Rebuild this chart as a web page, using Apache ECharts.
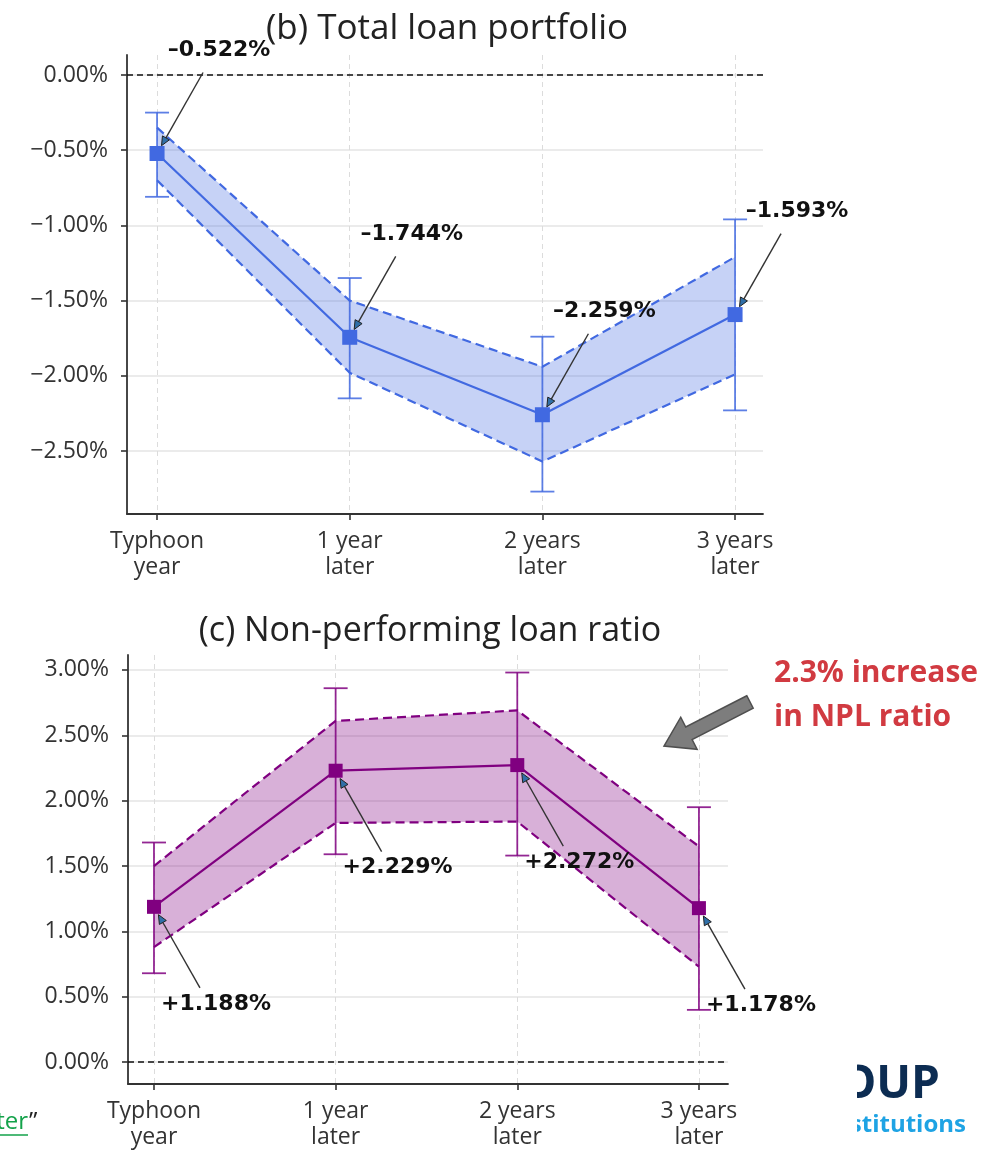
<!DOCTYPE html>
<html>
<head>
<meta charset="utf-8">
<script src="https://cdn.jsdelivr.net/npm/echarts@6/dist/echarts.min.js"></script>
<style>
  html, body { margin: 0; padding: 0; background: #fff; }
  #chart { width: 984px; height: 1150px; }
</style>
</head>
<body>
<div id="chart"></div>
<script>
// Period labels shared by both panels
const categories = ['Typhoon\nyear', '1 year\nlater', '2 years\nlater', '3 years\nlater'];
const xPositions = [0, 1, 2, 3];

// (b) Total loan portfolio, effect in %
const loanEstimate = [-0.522, -1.744, -2.259, -1.593];
const loanBandLow  = [-0.70, -1.98, -2.57, -1.99];
const loanBandHigh = [-0.35, -1.50, -1.94, -1.21];
const loanErrLow   = [-0.81, -2.15, -2.77, -2.23];
const loanErrHigh  = [-0.25, -1.35, -1.74, -0.96];
const loanTicks    = [-2.5, -2.0, -1.5, -1.0, -0.5, 0];

// (c) Non-performing loan ratio, effect in %
const nplEstimate = [1.188, 2.229, 2.272, 1.178];
const nplBandLow  = [0.88, 1.83, 1.84, 0.73];
const nplBandHigh = [1.50, 2.61, 2.69, 1.65];
const nplErrLow   = [0.68, 1.59, 1.58, 0.40];
const nplErrHigh  = [1.68, 2.86, 2.98, 1.95];
const nplTicks    = [0, 0.5, 1.0, 1.5, 2.0, 2.5, 3.0];

const BLUE = '#4169e1';
const PURPLE = '#800080';
const AXIS_FONT = '"Open Sans", "Noto Sans", sans-serif';
const NOTE_FONT = '"DejaVu Sans", sans-serif';

const pairs = (vals) => vals.map((v, i) => [xPositions[i], v]);
const pctTick = (v) => (v < 0 ? '\u2212' : '') + Math.abs(v).toFixed(2) + '%';
const pctNote = (v) => (v < 0 ? '\u2013' : '+') + Math.abs(v).toFixed(3) + '%';

function xAxisFor(gridIndex, min, max) {
  return {
    type: 'value', gridIndex, min, max,
    axisLine: { show: true, onZero: false, lineStyle: { color: '#333', width: 1.8 } },
    axisTick: { show: true, customValues: xPositions, length: 6, lineStyle: { color: '#333', width: 1.6 } },
    axisLabel: {
      customValues: xPositions, formatter: (v) => categories[Math.round(v)],
      color: '#333', fontFamily: AXIS_FONT, fontSize: 23, lineHeight: 26, margin: 14
    },
    splitLine: { show: true, lineStyle: { color: '#dcdcdc', width: 1, type: [5, 4] } }
  };
}

function yAxisFor(gridIndex, min, max, ticks) {
  return {
    type: 'value', gridIndex, min, max,
    axisLine: { show: true, onZero: false, lineStyle: { color: '#333', width: 1.8 } },
    axisTick: { show: true, customValues: ticks, length: 6, lineStyle: { color: '#333', width: 1.6 } },
    axisLabel: {
      customValues: ticks, formatter: pctTick,
      color: '#333', fontFamily: AXIS_FONT, fontSize: 23, margin: 19
    },
    splitLine: { show: true, lineStyle: { color: '#e4e4e4', width: 1.5 } }
  };
}

// Shaded confidence band as one polygon through the axis scales
function bandSeries(idx, low, high, fill) {
  return {
    type: 'custom', xAxisIndex: idx, yAxisIndex: idx, z: 1, silent: true,
    data: [[0]],
    renderItem: (params, api) => {
      const upper = high.map((v, i) => api.coord([xPositions[i], v]));
      const lower = low.map((v, i) => api.coord([xPositions[i], v])).reverse();
      return { type: 'polygon', shape: { points: upper.concat(lower) }, style: { fill } };
    }
  };
}

function dashedEdge(idx, vals, color) {
  return {
    type: 'line', xAxisIndex: idx, yAxisIndex: idx, z: 3, silent: true,
    data: pairs(vals), symbol: 'none',
    lineStyle: { color, width: 2.2, type: [9, 5] }
  };
}

function errorBars(idx, low, high, color) {
  return {
    type: 'custom', xAxisIndex: idx, yAxisIndex: idx, z: 4, silent: true,
    data: xPositions.map((x) => [x]),
    renderItem: (params, api) => {
      const i = params.dataIndex;
      const top = api.coord([xPositions[i], high[i]]);
      const bot = api.coord([xPositions[i], low[i]]);
      const w = 12;
      const style = { stroke: color, lineWidth: 1.8 };
      return {
        type: 'group', children: [
          { type: 'line', shape: { x1: top[0], y1: top[1], x2: bot[0], y2: bot[1] }, style },
          { type: 'line', shape: { x1: top[0] - w, y1: top[1], x2: top[0] + w, y2: top[1] }, style },
          { type: 'line', shape: { x1: bot[0] - w, y1: bot[1], x2: bot[0] + w, y2: bot[1] }, style }
        ]
      };
    }
  };
}

function estimateLine(idx, vals, color, size, zeroLine) {
  return {
    type: 'line', xAxisIndex: idx, yAxisIndex: idx, z: 5, silent: true,
    data: pairs(vals), symbol: 'rect', symbolSize: size,
    lineStyle: { color, width: 2.2 }, itemStyle: { color, opacity: 1 },
    markLine: {
      silent: true, symbol: 'none', label: { show: false },
      lineStyle: { color: '#111', width: 1.5, type: [6, 4] },
      data: [{ yAxis: zeroLine }]
    }
  };
}

// Value callouts: bold label with a thin arrow pointing at the marker
function callouts(idx, vals, dir) {
  return {
    type: 'custom', xAxisIndex: idx, yAxisIndex: idx, z: 10, silent: true,
    data: xPositions.map((x) => [x]),
    renderItem: (params, api) => {
      const i = params.dataIndex;
      const p = api.coord([xPositions[i], vals[i]]);
      const sx = p[0] + 46, sy = p[1] + dir * 81;
      const dx = p[0] - sx, dy = p[1] - sy;
      const len = Math.hypot(dx, dy);
      const ux = dx / len, uy = dy / len;
      const tx = p[0] - ux * 9, ty = p[1] - uy * 9;
      const hl = 9, hw = 4;
      const bx = tx - ux * hl, by = ty - uy * hl;
      return {
        type: 'group', children: [
          { type: 'line', shape: { x1: sx, y1: sy, x2: bx, y2: by }, style: { stroke: '#333', lineWidth: 1.4 } },
          { type: 'polygon', shape: { points: [[tx, ty], [bx - uy * hw, by + ux * hw], [bx + uy * hw, by - ux * hw]] },
            style: { fill: '#2f6fa8', stroke: '#222', lineWidth: 1 } },
          { type: 'text', x: p[0] + 62, y: p[1] + dir * (dir < 0 ? 103 : 97),
            style: { text: pctNote(vals[i]), fill: '#111', font: 'bold 22px ' + NOTE_FONT,
                     align: 'center', verticalAlign: 'middle' } }
        ]
      };
    }
  };
}

const chart = echarts.init(document.getElementById('chart'), null, { renderer: 'canvas' });

// Grey block arrow pointing at the NPL panel
const arrowTip = [664, 746], arrowTail = [750, 702];
const adx = arrowTip[0] - arrowTail[0], ady = arrowTip[1] - arrowTail[1];
const alen = Math.hypot(adx, ady);
const au = [adx / alen, ady / alen], an = [-au[1], au[0]];
const shaftW = 7, headW = 18, headL = 28;
const hb = [arrowTip[0] - au[0] * headL, arrowTip[1] - au[1] * headL];
const P = (c, k) => [c[0] + an[0] * k, c[1] + an[1] * k];
const blockArrow = [P(arrowTail, shaftW), P(hb, shaftW), P(hb, headW), arrowTip, P(hb, -headW), P(hb, -shaftW), P(arrowTail, -shaftW)];

chart.setOption({
  animation: false,
  backgroundColor: '#fff',
  title: [
    { text: '(b) Total loan portfolio', left: 442, top: 7, textAlign: 'center',
      textStyle: { fontFamily: AXIS_FONT, fontSize: 35, fontWeight: 'normal', color: '#222' } },
    { text: '(c) Non-performing loan ratio', left: 425, top: 609, textAlign: 'center',
      textStyle: { fontFamily: AXIS_FONT, fontSize: 34, fontWeight: 'normal', color: '#222' } }
  ],
  grid: [
    { left: 127, top: 55, width: 636, height: 459 },
    { left: 128, top: 655, width: 600, height: 433 }
  ],
  xAxis: [xAxisFor(0, -0.156, 3.145), xAxisFor(1, -0.143, 3.16)],
  yAxis: [yAxisFor(0, -2.919, 0.133, loanTicks), yAxisFor(1, -0.167, 3.114, nplTicks)],
  series: [
    bandSeries(0, loanBandLow, loanBandHigh, 'rgba(65,105,225,0.3)'),
    errorBars(0, loanErrLow, loanErrHigh, 'rgba(65,105,225,0.85)'),
    dashedEdge(0, loanBandHigh, BLUE),
    dashedEdge(0, loanBandLow, BLUE),
    estimateLine(0, loanEstimate, BLUE, 15, 0),
    callouts(0, loanEstimate, -1),

    bandSeries(1, nplBandLow, nplBandHigh, 'rgba(128,0,128,0.31)'),
    errorBars(1, nplErrLow, nplErrHigh, 'rgba(128,0,128,0.85)'),
    dashedEdge(1, nplBandHigh, PURPLE),
    dashedEdge(1, nplBandLow, PURPLE),
    estimateLine(1, nplEstimate, PURPLE, 14, 0),
    callouts(1, nplEstimate, 1)
  ],
  graphic: [
    { type: 'polygon', shape: { points: blockArrow }, z: 20,
      style: { fill: '#7d7d7d', stroke: '#4f4f4f', lineWidth: 1.5 } },
    { type: 'text', x: 774, y: 673, z: 20,
      style: { text: '2.3% increase', fill: '#d13a41', font: 'bold 30px "Open Sans", sans-serif', verticalAlign: 'middle' } },
    { type: 'text', x: 774, y: 717, z: 20,
      style: { text: 'in NPL ratio', fill: '#d13a41', font: 'bold 30px "Open Sans", sans-serif', verticalAlign: 'middle' } },
    // fragments of the surrounding slide
    { type: 'text', x: 28, y: 1122, z: 20,
      style: { text: 'later', fill: '#13a24a', font: '24px "Open Sans", sans-serif', align: 'right', verticalAlign: 'middle' } },
    { type: 'line', shape: { x1: 0, y1: 1135, x2: 28, y2: 1135 }, z: 20,
      style: { stroke: '#13a24a', lineWidth: 1.5 } },
    { type: 'text', x: 29, y: 1122, z: 20,
      style: { text: '\u201d', fill: '#222', font: '24px "Open Sans", sans-serif', verticalAlign: 'middle' } },
    { type: 'text', x: 940, y: 1085, z: 20,
      style: { text: 'GROUP', fill: '#0c2c52', font: 'bold 46px "Open Sans", sans-serif', align: 'right', verticalAlign: 'middle' } },
    { type: 'text', x: 966, y: 1125, z: 20,
      style: { text: 'institutions', fill: '#1ea3e4', font: 'bold 24px "Open Sans", sans-serif', align: 'right', verticalAlign: 'middle' } },
    { type: 'rect', shape: { x: 775, y: 1060, width: 82, height: 90 }, z: 21, style: { fill: '#fff' } }
  ]
});
</script>
</body>
</html>
